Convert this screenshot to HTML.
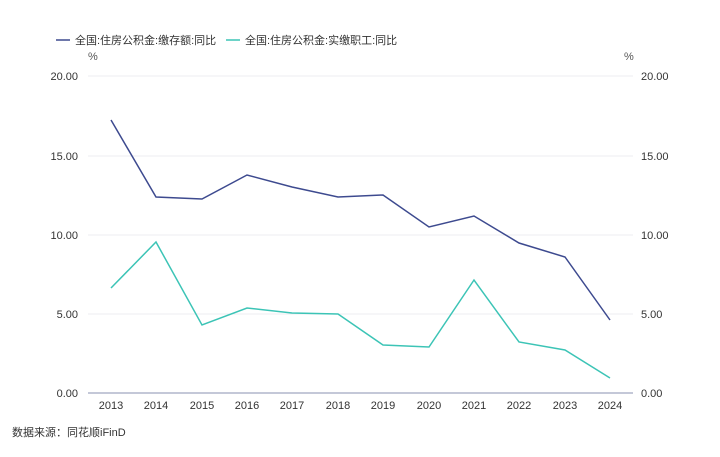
<!DOCTYPE html>
<html><head><meta charset="utf-8"><style>
body{margin:0;background:#fff;}
svg text{font-family:"Liberation Sans","Noto Sans CJK SC",sans-serif;}
</style></head><body>
<svg width="720" height="452" xmlns="http://www.w3.org/2000/svg">
<rect width="720" height="452" fill="#fff"/>
<!-- legend -->
<line x1="56" y1="40" x2="70" y2="40" stroke="#3d4a8f" stroke-width="1.5"/>
<text x="75" y="44" font-size="11" fill="#333">全国:住房公积金:缴存额:同比</text>
<line x1="226" y1="40" x2="240" y2="40" stroke="#3cc4b6" stroke-width="1.5"/>
<text x="245" y="44" font-size="11" fill="#333">全国:住房公积金:实缴职工:同比</text>
<text x="88" y="60" font-size="11" fill="#555">%</text>
<text x="624" y="60" font-size="11" fill="#555">%</text>
<!-- grid -->
<g stroke="#ececf2" stroke-width="1">
<line x1="88" y1="76" x2="633" y2="76"/>
<line x1="88" y1="156" x2="633" y2="156"/>
<line x1="88" y1="235" x2="633" y2="235"/>
<line x1="88" y1="314" x2="633" y2="314"/>
</g>
<line x1="88" y1="393" x2="633" y2="393" stroke="#8a90b0" stroke-width="1"/>
<g font-size="11" fill="#333" text-anchor="end">
<text x="78" y="80">20.00</text><text x="78" y="160">15.00</text><text x="78" y="239">10.00</text><text x="78" y="318">5.00</text><text x="78" y="397">0.00</text>
</g>
<g font-size="11" fill="#333" text-anchor="start">
<text x="641" y="80">20.00</text><text x="641" y="160">15.00</text><text x="641" y="239">10.00</text><text x="641" y="318">5.00</text><text x="641" y="397">0.00</text>
</g>
<g font-size="11" fill="#333" text-anchor="middle">
<text x="111" y="409">2013</text><text x="156" y="409">2014</text><text x="202" y="409">2015</text><text x="247" y="409">2016</text><text x="292" y="409">2017</text><text x="338" y="409">2018</text><text x="383" y="409">2019</text><text x="429" y="409">2020</text><text x="474" y="409">2021</text><text x="519" y="409">2022</text><text x="565" y="409">2023</text><text x="610" y="409">2024</text>
</g>
<polyline fill="none" stroke="#3d4a8f" stroke-width="1.5" points="111,120 156,197 202,199 247,175 292,187 338,197 383,195 429,227 474,216 519,243 565,257 610,320"/>
<polyline fill="none" stroke="#3cc4b6" stroke-width="1.5" points="111,288 156,242 202,325 247,308 292,313 338,314 383,345 429,347 474,280 519,342 565,350 610,378"/>
<text x="12" y="436" font-size="11" fill="#333">数据来源：同花顺iFinD</text>
</svg>
</body></html>
